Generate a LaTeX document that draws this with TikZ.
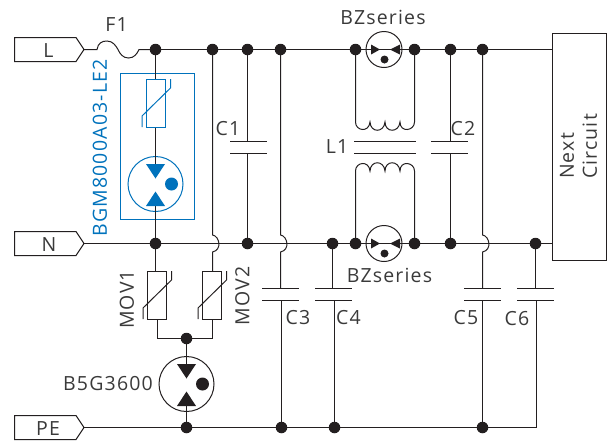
\documentclass[tikz,border=0pt]{standalone}
\usepackage{fontspec}
\setmainfont[LetterSpace=6]{Open Sans}
\definecolor{ink}{HTML}{231F20}
\definecolor{txt}{HTML}{3A3A3A}
\definecolor{sky}{HTML}{0072BC}
\tikzset{
  wire/.style={draw=ink,line width=1pt},
  dot/.style={circle,fill=ink,inner sep=0pt,minimum size=11.5pt},
  lab/.style={text=txt,inner sep=0pt,font=\fontsize{19.5}{23}\selectfont},
  movbox/.style={rectangle,draw=#1,line width=1pt,minimum width=19pt,minimum height=48pt,inner sep=0pt},
  gdt/.style={circle,draw=#1,line width=1pt,minimum size=55pt,inner sep=0pt},
  bz/.style={circle,draw=ink,line width=1pt,minimum size=36pt,inner sep=0pt},
  plate/.style={draw=ink,line width=1pt}
}
% slash of a varistor
\newcommand{\movslash}[2]{%
  \draw[#2,line width=1pt] ([shift={(-14pt,-24pt)}]#1.center) -- ([shift={(-14pt,-13pt)}]#1.center)
     -- ([shift={(14.5pt,15pt)}]#1.center) -- ([shift={(14.5pt,24pt)}]#1.center);}
% gas tube, vertical
\newcommand{\gdtfill}[2]{%
  \fill[#2] ([shift={(-9.5pt,20pt)}]#1.center) -- ([shift={(9.5pt,20pt)}]#1.center) -- ([shift={(0pt,5.5pt)}]#1.center) -- cycle;
  \fill[#2] ([shift={(-9.5pt,-22pt)}]#1.center) -- ([shift={(9.5pt,-22pt)}]#1.center) -- ([shift={(0pt,-7.5pt)}]#1.center) -- cycle;
  \fill[#2] ([shift={(16pt,0pt)}]#1.center) circle (6.5pt);}
% gas tube, horizontal
\newcommand{\bzfill}[1]{%
  \fill[ink] ([shift={(-13pt,5pt)}]#1.center) -- ([shift={(-13pt,-5pt)}]#1.center) -- ([shift={(-4pt,0pt)}]#1.center) -- cycle;
  \fill[ink] ([shift={(16pt,5pt)}]#1.center) -- ([shift={(16pt,-5pt)}]#1.center) -- ([shift={(6pt,0pt)}]#1.center) -- cycle;
  \fill[ink] ([shift={(0.5pt,-10pt)}]#1.center) circle (4pt);}
\newcommand{\capplates}[4]{% x-left, x-right, y-top, y-bottom
  \draw[plate] (#1,#3) -- (#2,#3); \draw[plate] (#1,#4) -- (#2,#4);}
\begin{document}
\begin{tikzpicture}[x=1pt,y=-1pt]
\useasboundingbox (0,0) rectangle (613,440);
% tags
\draw[wire] (14.5,37.5) -- (76,37.5) -- (84,49.5) -- (76,61.5) -- (14.5,61.5) -- cycle;
\draw[wire] (14.5,231.5) -- (76,231.5) -- (84,243.5) -- (76,255.5) -- (14.5,255.5) -- cycle;
\draw[wire] (14.5,415.5) -- (76,415.5) -- (84,427.5) -- (76,439.5) -- (14.5,439.5) -- cycle;
\coordinate (Ltip) at (84,49.5);
\coordinate (Ntip) at (84,243.5);
\coordinate (Ptip) at (84,427.5);
\node[lab] (tL) at (48.5,50.5) {L};
\node[lab] (tN) at (49,244.5) {N};
\node[lab] (tPE) at (48,428.5) {PE};
% blue frame
\draw[sky,line width=1pt,fill=white] (120.5,73.5) rectangle (194.5,219.5);
% junctions on L
\node[dot] (a1) at (155.5,49.5) {};
\node[dot] (a2) at (212.5,49.5) {};
\node[dot] (a3) at (247.5,49.5) {};
\node[dot] (a4) at (280.5,49.5) {};
\node[dot] (a5) at (355.5,49.5) {};
\node[dot] (a6) at (414.5,49.5) {};
\node[dot] (a7) at (450.5,49.5) {};
\node[dot] (a8) at (482.5,49.5) {};
% junctions on N
\node[dot] (b1) at (155.5,243.5) {};
\node[dot] (b3) at (247.5,243.5) {};
\node[dot] (b4) at (332.5,243.5) {};
\node[dot] (b5) at (355.5,243.5) {};
\node[dot] (b6) at (414.5,243.5) {};
\node[dot] (b7) at (450.5,243.5) {};
\node[dot] (b8) at (535.5,243.5) {};
% junctions on PE
\node[dot] (c1) at (186.5,427.5) {};
\node[dot] (c2) at (281.5,427.5) {};
\node[dot] (c3) at (334.5,427.5) {};
\node[dot] (c4) at (482.5,427.5) {};
\coordinate (c5) at (536.5,427.5);
\node[dot] (m0) at (186.5,338.5) {};
% next circuit
\node[draw=ink,line width=1pt,minimum width=54pt,minimum height=227pt,inner sep=0pt] (box) at (579.5,147) {};
\coordinate (boxL) at (552.5,49.5);
\coordinate (boxN) at (552.5,243.5);
% fuse
\coordinate (f1) at (97,49.5);
\coordinate (f2) at (139,49.5);
\draw[wire] (Ltip) -- (f1) .. controls (98,43) and (102,41) .. (107,41) .. controls (113,41) and (116,46) .. (118,49.5)
  .. controls (120,54) and (123,58) .. (128.5,58) .. controls (134,58) and (137,54) .. (f2) -- (a1.center);
% L line and N line
\node[bz] (bz1) at (384,49.5) {};
\node[bz] (bz2) at (384,243.5) {};
\draw[wire] (a1.center) -- (a5.center) -- (a6.center) -- (boxL);
\draw[wire] (Ntip) -- (boxN);
\bzfill{bz1}\bzfill{bz2}
\draw[wire] (Ptip) -- (c5) -- (536.5,300.5);
% left protected branch
\node[movbox=sky] (mb) at (156,103) {};
\node[gdt=sky,fill=none] (gb) at (155.5,184) {};
\draw[wire] (a1.center) -- (a1.center |- mb.north);
\draw[wire] (a1.center |- mb.south) -- (155.5,164);
\draw[wire] (155.5,206) -- (b1.center);
\movslash{mb}{sky}
\gdtfill{gb}{sky}
% MOV1, MOV2
\node[movbox=ink] (m1) at (157,295) {};
\node[movbox=ink] (m2) at (212,295) {};
\draw[wire] (b1.center) -- (155.5,271);
\draw[wire] (157.5,319) -- (157.5,338.5) -- (m0.center) -- (212.5,338.5) -- (212.5,319);
\draw[wire] (a2.center) -- (212.5,235) .. controls (219.5,236) and (222.5,250) .. (212.5,252) -- (212.5,271);
\movslash{m1}{ink}
\movslash{m2}{ink}
% B5G3600
\node[gdt=ink] (g1) at (186.5,384) {};
\draw[wire] (m0.center) -- (186.5,364);
\draw[wire] (186.5,406) -- (c1.center);
\gdtfill{g1}{ink}
% C1
\draw[wire] (a3.center) -- (247.5,141.5);
\draw[wire] (247.5,153.5) -- (b3.center);
\capplates{230}{267}{141.5}{153.5}
% C3
\draw[wire] (a4.center) -- (280.5,235) .. controls (287.5,236) and (290.5,250) .. (280.5,252) -- (280.5,288.5);
\draw[wire] (281.5,300.5) -- (c2.center);
\capplates{262}{299}{288.5}{300.5}
% C4
\draw[wire] (b4.center) -- (332.5,288.5);
\draw[wire] (334.5,300.5) -- (c3.center);
\capplates{315}{352}{288.5}{300.5}
% L1
\draw[wire] (a5.center) -- (355.5,122) .. controls (355.5,131) and (369,133) .. (370,122)
  .. controls (370.5,133) and (384,133) .. (385,122) .. controls (385,133) and (399,133) .. (400,122)
  .. controls (400,133) and (414.5,131) .. (414.5,122) -- (a6.center);
\draw[wire] (b5.center) -- (355.5,171) .. controls (355.5,162) and (369,160) .. (370,171)
  .. controls (370.5,160) and (384,160) .. (385,171) .. controls (385,160) and (399,160) .. (400,171)
  .. controls (400,160) and (414.5,162) .. (414.5,171) -- (b6.center);
\capplates{354}{416}{141.5}{153.5}
% C2
\draw[wire] (a7.center) -- (450.5,141.5);
\draw[wire] (450.5,153.5) -- (b7.center);
\capplates{431}{468}{141.5}{153.5}
% C5
\draw[wire] (a8.center) -- (482.5,235) .. controls (489.5,236) and (492.5,250) .. (482.5,252) -- (482.5,288.5);
\draw[wire] (482.5,300.5) -- (c4.center);
\capplates{464}{501}{288.5}{300.5}
% C6
\draw[wire] (b8.center) -- (535.5,288.5);
\capplates{517}{554}{288.5}{300.5}
% labels
\node[lab] (lF1) at (116.5,25) {F1};
\node[lab] (lC1) at (228,129) {C1};
\node[lab] (lC2) at (463,129) {C2};
\node[lab] (lL1) at (337,147) {L1};
\node[lab] (lC3) at (298,318) {C3};
\node[lab] (lC4) at (348.5,318) {C4};
\node[lab] (lC5) at (466,318) {C5};
\node[lab] (lC6) at (517,319) {C6};
\node[lab] (lBZ1) at (383,17) {BZseries};
\node[lab] (lBZ2) at (389.5,275) {BZseries};
\node[lab] (lB5) at (108,384) {B5G3600};
\node[lab,rotate=90] (lM1) at (127,299.5) {MOV1};
\node[lab,rotate=90] (lM2) at (242.5,296) {MOV2};
\node[lab,rotate=90,text=sky] (lBG) at (100,148) {BGM8000A03-LE2};
\node[lab,rotate=90,align=left] (lNC) at (578.5,146.5) {Next\\Circuit};
\end{tikzpicture}
\end{document}
